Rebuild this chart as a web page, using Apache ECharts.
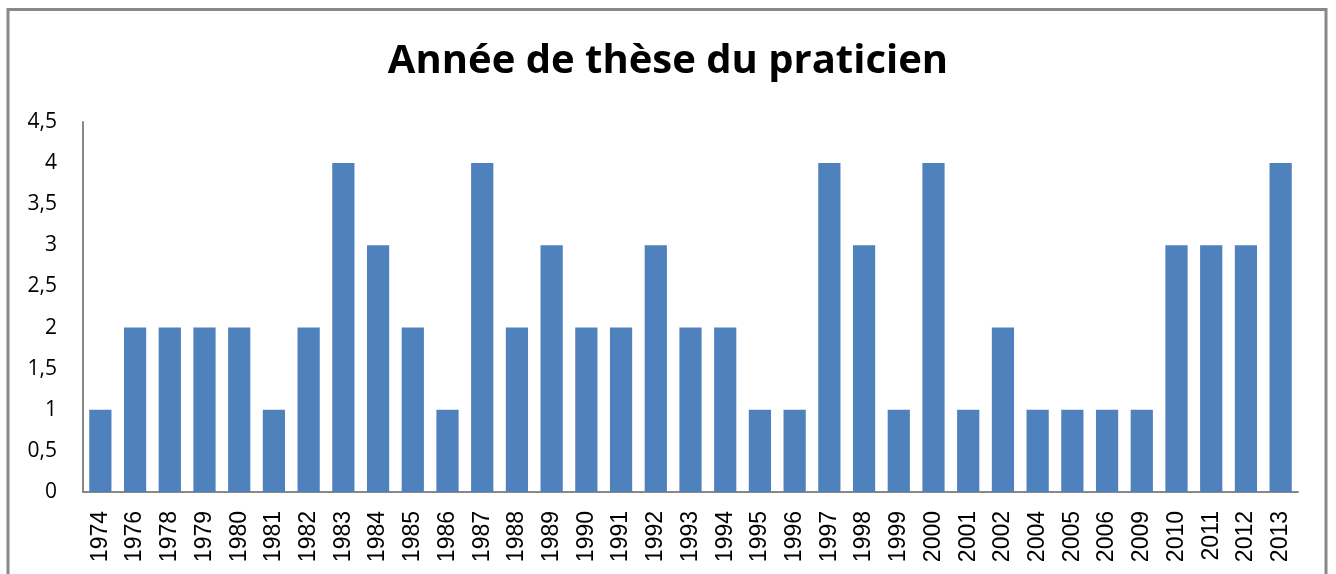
<!DOCTYPE html>
<html>
<head>
<meta charset="utf-8">
<script src="https://cdn.jsdelivr.net/npm/echarts@6/dist/echarts.min.js"></script>
<style>
html,body{margin:0;padding:0;background:#fff;}
#chart{width:1336px;height:574px;}
</style>
</head>
<body>
<div id="chart"></div>
<script>
const title = "Année de thèse du praticien";
const categories = ["1974","1976","1978","1979","1980","1981","1982","1983","1984","1985","1986","1987","1988","1989","1990","1991","1992","1993","1994","1995","1996","1997","1998","1999","2000","2001","2002","2004","2005","2006","2009","2010","2011","2012","2013"];
const values = [1,2,2,2,2,1,2,4,3,2,1,4,2,3,2,2,3,2,2,1,1,4,3,1,4,1,2,1,1,1,1,3,3,3,4];
const yTicks = {min:0, max:4.5, interval:0.5};

const chart = echarts.init(document.getElementById('chart'), null, {renderer:'canvas'});
chart.setOption({
  animation:false,
  backgroundColor:'#fff',
  title:{
    text:title, left:'center', top:37,
    textStyle:{fontFamily:'Open Sans', fontWeight:'bold', fontSize:40, color:'#000'}
  },
  graphic:[{
    type:'rect', shape:{x:8, y:9.5, width:1318, height:600},
    style:{fill:'none', stroke:'#888', lineWidth:3}, silent:true
  }],
  grid:{left:83, right:38, top:122, bottom:82, containLabel:false},
  xAxis:{
    type:'category', data:categories,
    axisLine:{lineStyle:{color:'#888', width:2}},
    axisTick:{show:false},
    axisLabel:{rotate:90, interval:0, fontFamily:'Liberation Sans', fontSize:23, color:'#000', margin:19}
  },
  yAxis:{
    type:'value', min:yTicks.min, max:yTicks.max, interval:yTicks.interval,
    axisLine:{show:true, lineStyle:{color:'#888', width:2}},
    axisTick:{show:false},
    splitLine:{show:false},
    axisLabel:{fontFamily:'Open Sans', fontSize:21, color:'#000', margin:26,
      formatter:v=>String(v).replace('.',',')}
  },
  series:[{
    type:'bar', data:values, barCategoryGap:'36%',
    itemStyle:{color:'#4F81BD'}
  }]
});
</script>
</body>
</html>
